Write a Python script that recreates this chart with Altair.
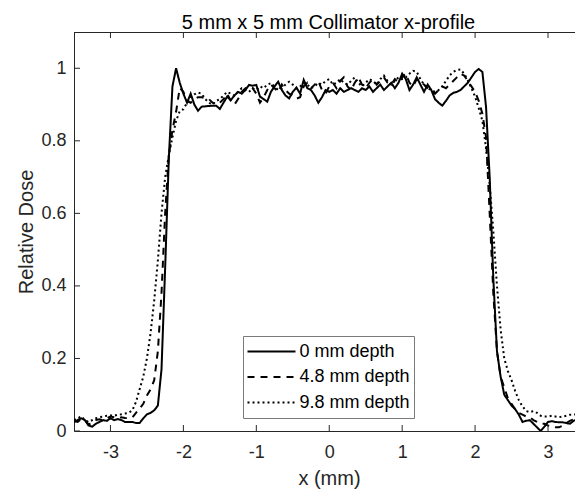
import altair as alt
import pandas as pd

x_mm = [
    -3.50, -3.45, -3.40, -3.35, -3.30, -3.25, -3.20, -3.15, -3.10, -3.05,
    -3.00, -2.95, -2.90, -2.85, -2.80, -2.75, -2.70, -2.65, -2.60, -2.55,
    -2.50, -2.45, -2.40, -2.35, -2.30, -2.25, -2.20, -2.15, -2.10, -2.05,
    -2.00, -1.95, -1.90, -1.85, -1.80, -1.75, -1.70, -1.65, -1.60, -1.55,
    -1.50, -1.45, -1.40, -1.35, -1.30, -1.25, -1.20, -1.15, -1.10, -1.05,
    -1.00, -0.95, -0.90, -0.85, -0.80, -0.75, -0.70, -0.65, -0.60, -0.55,
    -0.50, -0.45, -0.40, -0.35, -0.30, -0.25, -0.20, -0.15, -0.10, -0.05,
    0.00, 0.05, 0.10, 0.15, 0.20, 0.25, 0.30, 0.35, 0.40, 0.45,
    0.50, 0.55, 0.60, 0.65, 0.70, 0.75, 0.80, 0.85, 0.90, 0.95,
    1.00, 1.05, 1.10, 1.15, 1.20, 1.25, 1.30, 1.35, 1.40, 1.45,
    1.50, 1.55, 1.60, 1.65, 1.70, 1.75, 1.80, 1.85, 1.90, 1.95,
    2.00, 2.05, 2.10, 2.15, 2.20, 2.25, 2.30, 2.35, 2.40, 2.45,
    2.50, 2.55, 2.60, 2.65, 2.70, 2.75, 2.80, 2.85, 2.90, 2.95,
    3.00, 3.05, 3.10, 3.15, 3.20, 3.25, 3.30, 3.35, 3.40,
]

dose_0mm = [
    0.025, 0.03, 0.035, 0.03, 0.015, 0.012, 0.02, 0.025, 0.03, 0.028,
    0.035, 0.03, 0.033, 0.03, 0.025, 0.025, 0.025, 0.022, 0.022, 0.035,
    0.046, 0.05, 0.057, 0.07, 0.17, 0.45, 0.75, 0.95, 1.0, 0.96,
    0.93, 0.905, 0.93, 0.9, 0.883, 0.894, 0.895, 0.896, 0.897, 0.897,
    0.888, 0.905, 0.922, 0.912, 0.925, 0.935, 0.93, 0.94, 0.954, 0.952,
    0.954, 0.922, 0.915, 0.908, 0.935, 0.95, 0.963, 0.94, 0.925, 0.917,
    0.935, 0.947, 0.93, 0.968, 0.945, 0.94, 0.925, 0.905, 0.92, 0.94,
    0.935, 0.94, 0.93, 0.945, 0.935, 0.94, 0.945, 0.94, 0.935, 0.945,
    0.94, 0.95, 0.935, 0.945, 0.955, 0.94, 0.95, 0.96, 0.945, 0.96,
    0.985, 0.97, 0.94, 0.955, 0.975, 0.955, 0.935, 0.955, 0.94, 0.915,
    0.905, 0.897, 0.91, 0.925, 0.932, 0.935, 0.94, 0.95, 0.96, 0.975,
    0.99, 0.998, 0.99, 0.894, 0.7, 0.42, 0.22, 0.15, 0.1, 0.085,
    0.07, 0.06, 0.045, 0.025, 0.028, 0.03, 0.02, 0.01, 0.0, 0.012,
    0.025, 0.027, 0.025, 0.024, 0.024, 0.022, 0.02, 0.028, 0.032,
]

dose_4_8mm = [
    0.028, 0.025, 0.033, 0.03, 0.018, 0.022, 0.03, 0.032, 0.03, 0.035,
    0.04, 0.038, 0.035, 0.038, 0.036, 0.035, 0.037, 0.05, 0.062, 0.075,
    0.098, 0.115, 0.14, 0.22, 0.38, 0.6, 0.76, 0.83, 0.88, 0.946,
    0.935, 0.91, 0.905, 0.915, 0.92, 0.92, 0.918, 0.915, 0.905, 0.9,
    0.905, 0.915, 0.93, 0.91, 0.9, 0.915, 0.935, 0.945, 0.95, 0.945,
    0.93, 0.905, 0.92, 0.94, 0.955, 0.945, 0.935, 0.955, 0.94, 0.93,
    0.925, 0.916, 0.92, 0.95, 0.96, 0.945, 0.955, 0.965, 0.94, 0.93,
    0.95, 0.96, 0.945, 0.965, 0.975, 0.95, 0.94, 0.96, 0.975, 0.955,
    0.945, 0.96, 0.97, 0.955, 0.965, 0.975, 0.96, 0.955, 0.97, 0.96,
    0.975, 0.985, 0.96, 0.95, 0.97, 0.96, 0.955, 0.945, 0.935, 0.93,
    0.94, 0.95, 0.945, 0.955, 0.965, 0.975, 0.985, 0.98, 0.965, 0.95,
    0.935, 0.91, 0.875, 0.81, 0.6, 0.38, 0.22, 0.15, 0.12, 0.09,
    0.075, 0.06, 0.05, 0.045, 0.04, 0.038, 0.03, 0.025, 0.02, 0.02,
    0.015, 0.012, 0.01, 0.01, 0.015, 0.022, 0.028, 0.032, 0.035,
]

dose_9_8mm = [
    0.03, 0.035, 0.04, 0.03, 0.025, 0.03, 0.035, 0.038, 0.04, 0.042,
    0.043, 0.042, 0.045, 0.046, 0.048, 0.05, 0.057, 0.08, 0.115, 0.15,
    0.2, 0.27, 0.36, 0.47, 0.6, 0.7, 0.76, 0.81, 0.855, 0.882,
    0.887, 0.905, 0.92, 0.928, 0.933, 0.93, 0.915, 0.905, 0.9, 0.91,
    0.915, 0.925, 0.935, 0.93, 0.925, 0.935, 0.945, 0.94, 0.935, 0.945,
    0.94, 0.95, 0.945, 0.955, 0.959, 0.95, 0.94, 0.945, 0.955, 0.963,
    0.955, 0.945, 0.95, 0.96, 0.955, 0.945, 0.95, 0.96, 0.955, 0.965,
    0.97, 0.955, 0.96, 0.97, 0.96, 0.955, 0.965, 0.975, 0.96, 0.95,
    0.96, 0.97, 0.965, 0.955, 0.97, 0.98, 0.965, 0.955, 0.965, 0.975,
    0.97, 0.975, 0.985, 0.993, 0.99, 0.97, 0.955, 0.945, 0.94, 0.935,
    0.94, 0.95, 0.965, 0.98, 0.99, 0.995, 0.997, 0.985, 0.967, 0.945,
    0.922, 0.89, 0.855, 0.78, 0.68, 0.55, 0.4, 0.28, 0.2, 0.165,
    0.14, 0.11, 0.085, 0.068, 0.055, 0.052, 0.055, 0.05, 0.042, 0.04,
    0.04, 0.042, 0.04, 0.038, 0.04, 0.042, 0.045, 0.045, 0.046,
]

series_names = ["0 mm depth", "4.8 mm depth", "9.8 mm depth"]
x_ticks = [-3, -2, -1, 0, 1, 2, 3]
y_ticks = [0, 0.2, 0.4, 0.6, 0.8, 1]

rows = []
for name, ys in zip(series_names, [dose_0mm, dose_4_8mm, dose_9_8mm]):
    for xv, yv in zip(x_mm, ys):
        rows.append({"x": xv, "dose": yv, "series": name})
df = pd.DataFrame(rows)
xt = pd.DataFrame({"x": x_ticks})
yt = pd.DataFrame({"dose": y_ticks})

W, H = 501, 399
FONT = "Liberation Sans"
AX = "#262626"

xscale = alt.Scale(domain=[-3.5, 3.37], nice=False, zero=False)
yscale = alt.Scale(domain=[0, 1.1], nice=False, zero=False)

x_enc = alt.X(
    "x:Q", scale=xscale,
    axis=alt.Axis(values=x_ticks, title="x (mm)", labelExpr="'' + datum.value",
                  ticks=False, grid=False, labelPadding=12, titleX=255, titleY=53,
                  titleBaseline="alphabetic", titleAlign="center"),
)
y_enc = alt.Y(
    "dose:Q", scale=yscale,
    axis=alt.Axis(values=y_ticks, title="Relative Dose", labelExpr="'' + datum.value",
                  ticks=False, grid=False, labelPadding=8, titleX=-42, titleY=199.5,
                  titleBaseline="alphabetic", titleAlign="center", titleAngle=270),
)

lines = alt.Chart(df).mark_line(clip=True, strokeWidth=2, color="black").encode(
    x=x_enc,
    y=y_enc,
    strokeDash=alt.StrokeDash(
        "series:N",
        scale=alt.Scale(domain=series_names, range=[[1, 0], [7, 6], [2, 3]]),
        legend=alt.Legend(
            title=None, orient="none", legendX=169, legendY=304, direction="vertical",
            symbolType="stroke", symbolSize=2304, symbolStrokeWidth=2,
            symbolStrokeColor="black", symbolOffset=0,
            labelFont=FONT, labelFontSize=18, labelColor="black", labelOffset=3,
            padding=3.5, rowPadding=1.5, clipHeight=24,
            strokeColor="#7a7a7a", fillColor="white",
        ),
    ),
)

bottom_ticks = alt.Chart(xt).mark_rule(color=AX, strokeWidth=1).encode(
    x=x_enc, y=alt.value(H), y2=alt.value(H - 6))
top_ticks = alt.Chart(xt).mark_rule(color=AX, strokeWidth=1).encode(
    x=x_enc, y=alt.value(0), y2=alt.value(6))
left_ticks = alt.Chart(yt).mark_rule(color=AX, strokeWidth=1).encode(
    y=y_enc, x=alt.value(0), x2=alt.value(6))
top_spine = alt.Chart(alt.Data(values=[{}])).mark_rule(color=AX, strokeWidth=1).encode(
    x=alt.value(0), x2=alt.value(W), y=alt.value(0.5))

chart = alt.layer(lines, bottom_ticks, top_ticks, left_ticks, top_spine).properties(
    width=W, height=H,
    title=alt.TitleParams("5 mm x 5 mm Collimator x-profile", font=FONT, fontSize=20,
                          fontWeight="normal", color="black", anchor="middle",
                          dx=4, dy=23, baseline="alphabetic", offset=6),
    autosize=alt.AutoSizeParams(type="none"),
    padding={"left": 74, "top": 32, "right": 0, "bottom": 58},
).configure_view(stroke=None).configure_axis(
    domainColor=AX, domainWidth=1, labelFont=FONT, labelFontSize=18, labelColor=AX,
    titleFont=FONT, titleFontSize=20, titleFontWeight="normal", titleColor=AX,
)

chart.save("out.html", embed_options={"renderer": "svg", "actions": False})
